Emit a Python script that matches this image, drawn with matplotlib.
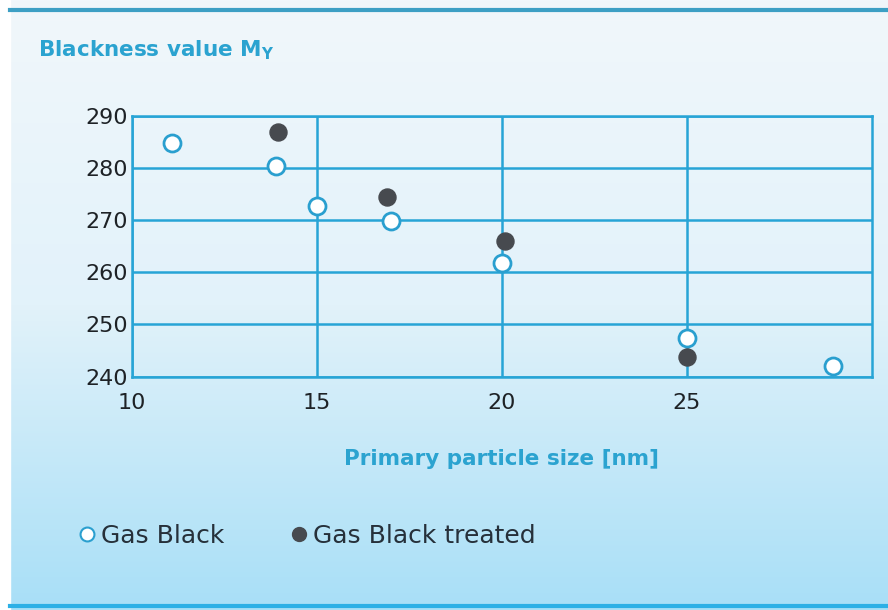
import numpy as np
import matplotlib.pyplot as plt
from matplotlib.colors import LinearSegmentedColormap
from matplotlib.lines import Line2D

# Gas Black (open markers)
gas_size = [11.1, 13.9, 15.0, 17.0, 20.0, 25.0, 28.95]
gas_black = [284.7, 280.3, 272.7, 269.9, 261.8, 247.5, 242.1]

# Gas Black treated (filled markers)
treated_size = [13.95, 16.9, 20.1, 25.0]
treated_black = [286.8, 274.4, 265.9, 243.8]

xticks = [10, 15, 20, 25]
yticks = [240, 250, 260, 270, 280, 290]

teal = '#27a4d6'
title_col = '#2ba3d0'
dark = '#474a4f'

fig = plt.figure(figsize=(8.88, 6.10), dpi=100)

# background panel with vertical gradient
bg = fig.add_axes([0, 0, 1, 1], zorder=-10)
grad = np.linspace(0, 1, 256).reshape(-1, 1)
cmap = LinearSegmentedColormap.from_list('bg', ['#f1f7fb', '#e2f2fa', '#a8dff7'])
bg.imshow(grad, aspect='auto', cmap=cmap, extent=[10, 888, 610, 0])
bg.add_patch(plt.Rectangle((0, 0), 10, 610, color='white'))
bg.plot([10, 888], [10, 10], color='#3d9fc4', lw=3)
bg.plot([10, 888], [606, 606], color='#2cb0e6', lw=3)
bg.set_xlim(0, 888)
bg.set_ylim(610, 0)
bg.axis('off')

ax = fig.add_axes([0.1483, 0.3825, 0.8333, 0.4278])
ax.set_facecolor('none')
ax.set_xlim(10, 30)
ax.set_ylim(240, 290)
ax.set_xticks(xticks)
ax.set_yticks(yticks)
ax.grid(True, color=teal, lw=1.8)
for s in ax.spines.values():
    s.set_color(teal)
    s.set_linewidth(1.8)
ax.tick_params(length=0, labelsize=16, labelcolor='#1e2226')
ax.tick_params(axis='y', pad=3)
ax.tick_params(axis='x', pad=12)
ax.set_axisbelow(True)

ax.scatter(gas_size, gas_black, s=150, facecolor='white', edgecolor='#2a9fcf',
           linewidth=2, zorder=3, clip_on=False)
ax.scatter(treated_size, treated_black, s=150, facecolor=dark, edgecolor=dark,
           zorder=3, clip_on=False)

fig.text(38 / 888, 1 - 50 / 610, r'Blackness value M$_\mathregular{Y}$', color=title_col,
         fontsize=15.5, fontweight='bold', va='center', ha='left')
ax.set_xlabel('Primary particle size [nm]', color=title_col, fontsize=15.5,
              fontweight='bold', labelpad=26)

handles = [
    Line2D([], [], ls='none', marker='o', ms=10, mfc='white', mec='#2a9fcf', mew=1.5,
           label='Gas Black'),
    Line2D([], [], ls='none', marker='o', ms=10, mfc=dark, mec=dark, label='Gas Black treated'),
]
fig.legend(handles=handles, loc='center left', bbox_to_anchor=(52 / 888, 1 - 536 / 610),
           ncol=2, frameon=False, fontsize=18, handletextpad=0.05, columnspacing=2.5,
           handlelength=1.0, labelcolor='#26303a')

fig.savefig('out.png', dpi=100)
